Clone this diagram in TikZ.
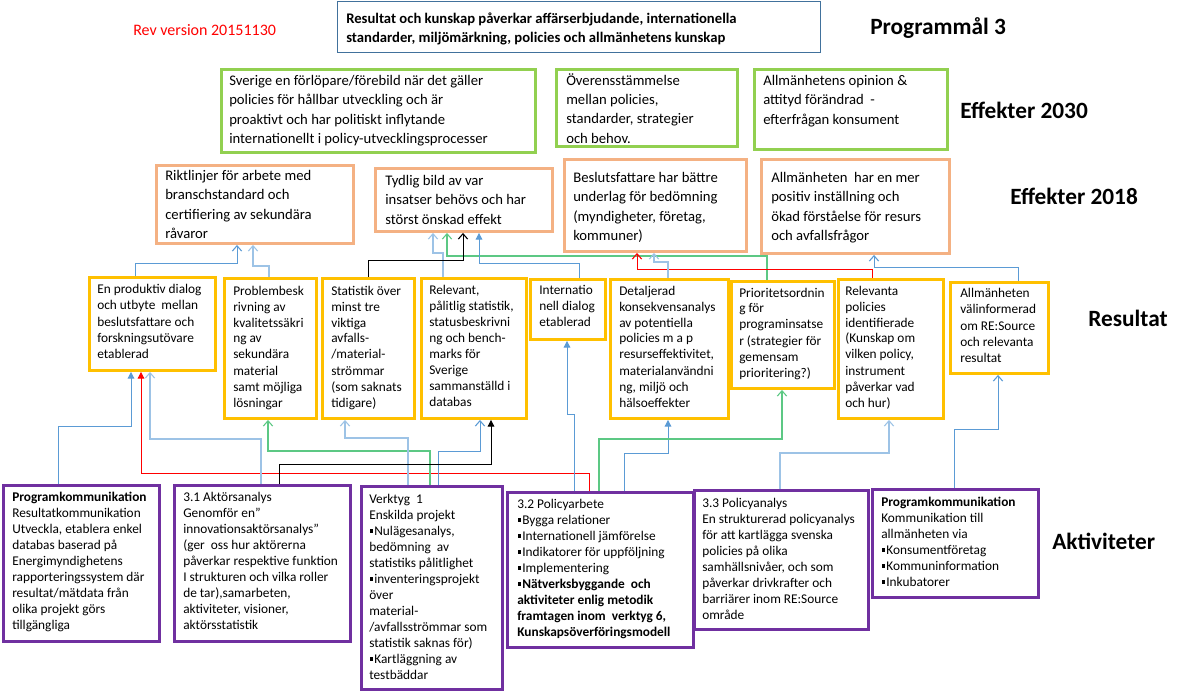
\documentclass[tikz,border=0pt]{standalone}
\usepackage{fontspec}
\setmainfont{Carlito}
\usetikzlibrary{arrows.meta}
\definecolor{cgreenbox}{HTML}{92D050}
\definecolor{corange}{HTML}{F4B183}
\definecolor{cyellow}{HTML}{FFC000}
\definecolor{cpurple}{HTML}{7030A0}
\definecolor{ctopbox}{HTML}{41719C}
\definecolor{cblue}{HTML}{5B9BD5}
\definecolor{clblue}{HTML}{9DC3E6}
\definecolor{cgreen}{HTML}{5CC884}
\definecolor{cred}{HTML}{FF0000}
\newcommand\mkbox[6]{\node[#1, anchor=north west, inner sep=0pt, minimum width={(#5-#3)*0.75pt}, minimum height={(#6-#4)*0.75pt}] (#2) at (#3,#4) {};}
\newcommand\bul{\kern0.3pt\raisebox{1.8pt}{\rule{2.5pt}{2.5pt}}\kern1pt}
\tikzset{
  topbox/.style={draw=ctopbox, line width=0.9pt},
  gbox/.style={draw=cgreenbox, line width=2.2pt},
  obox/.style={draw=corange, line width=2.2pt},
  ybox/.style={draw=cyellow, line width=2.2pt},
  pbox/.style={draw=cpurple, line width=2.2pt},
  t11/.style={anchor=north west, inner sep=0pt, align=left, yshift=-3pt, font=\fontsize{11}{14.5}\selectfont},
  t11b/.style={t11, font=\fontsize{11}{14.3}\selectfont\bfseries},
  t10/.style={anchor=north west, inner sep=0pt, align=left, yshift=-2.6pt, font=\fontsize{10}{12}\selectfont},
  lbl/.style={anchor=west, inner sep=0pt, font=\fontsize{17.5}{20}\selectfont\bfseries},
  ob/.style={-{Straight Barb[length=4pt,width=7pt,line width=0.8pt]}},
  fb/.style={-{Triangle[length=5pt,width=5pt]}},
  cb/.style={draw=cblue, line width=0.75pt},
  cl/.style={draw=clblue, line width=1.5pt},
  cg/.style={draw=cgreen, line width=1.5pt},
  cr/.style={draw=cred, line width=0.75pt},
  ck/.style={draw=black, line width=0.75pt},
}
\begin{document}
\begin{tikzpicture}[x=0.75pt, y=-0.75pt]
\useasboundingbox[fill=white] (0,0) rectangle (1185,690);

% ---------- labels
\node[anchor=west, inner sep=0pt, text=cred, font=\fontsize{12}{14}\selectfont] (rev) at (133,30) {Rev version 20151130};
\node[lbl] (Lprog) at (870,28) {Programmål 3};
\node[lbl] (L2030) at (960,110) {Effekter 2030};
\node[lbl] (L2018) at (1010,196) {Effekter 2018};
\node[lbl] (Lres) at (1088,318) {Resultat};
\node[lbl] (Lakt) at (1052,541) {Aktiviteter};

% ---------- top box
\mkbox{topbox}{T}{337}{1}{820}{52}
\node[t11b] (Tt) at (346,9) {Resultat och kunskap påverkar affärserbjudande, internationella\\standarder, miljömärkning, policies och allmänhetens kunskap};

% ---------- Effekter 2030
\mkbox{gbox}{G1}{220}{68}{534}{151}
\mkbox{gbox}{G2}{555}{68}{736}{145}
\mkbox{gbox}{G3}{753}{68}{946}{148}
\node[t11] (G1t) at (229,71) {Sverige en förlöpare/förebild när det gäller\\policies för hållbar utveckling och är\\proaktivt och har politiskt inflytande\\internationellt i policy-utvecklingsprocesser};
\node[t11] (G2t) at (566,69) {Överensstämmelse\\mellan policies,\\standarder, strategier\\och behov.};
\node[t11] (G3t) at (763,71) {Allmänhetens opinion \&\\attityd förändrad\ \ -\\efterfrågan konsument};

% ---------- Effekter 2018
\mkbox{obox}{O1}{155}{164}{352}{242}
\mkbox{obox}{O2}{374}{167}{551}{230}
\mkbox{obox}{O3}{563}{158}{745}{250}
\mkbox{obox}{O4}{760}{158}{948}{252}
\node[t11] (O1t) at (165,166) {Riktlinjer för arbete med\\branschstandard och\\certifiering av sekundära\\råvaror};
\node[t11] (O2t) at (385,171) {Tydlig bild av var\\insatser behövs och har\\störst önskad effekt};
\node[t11] (O3t) at (573,168) {Beslutsfattare har bättre\\underlag för bedömning\\(myndigheter, företag,\\kommuner)};
\node[t11] (O4t) at (771,168) {Allmänheten\ \ har en mer\\positiv inställning och\\ökad förståelse för resurs\\och avfallsfrågor};

% ---------- Resultat
\mkbox{ybox}{Y1}{88}{276}{214}{369}
\mkbox{ybox}{Y2}{223}{277}{315}{417}
\mkbox{ybox}{Y3}{321}{277}{413}{417}
\mkbox{ybox}{Y4}{420}{277}{525}{417}
\mkbox{ybox}{Y5}{529}{278}{604}{338}
\mkbox{ybox}{Y6}{609}{278}{727}{417}
\mkbox{ybox}{Y7}{730}{280}{833}{387}
\mkbox{ybox}{Y8}{837}{278}{942}{417}
\mkbox{ybox}{Y9}{949}{281}{1047}{372}
\node[t10] (Y1t) at (97,281) {En produktiv dialog\\och utbyte\ \ mellan\\beslutsfattare och\\forskningsutövare\\etablerad};
\node[t10] (Y2t) at (233,282) {Problembesk\\rivning av\\kvalitetssäkri\\ng av\\sekundära\\material\\samt möjliga\\lösningar};
\node[t10] (Y3t) at (331,282) {Statistik över\\minst tre\\viktiga\\avfalls-\\/material-\\strömmar\\(som saknats\\tidigare)};
\node[t10] (Y4t) at (429,281) {Relevant,\\pålitlig statistik,\\statusbeskrivni\\ng och bench-\\marks för\\Sverige\\sammanställd i\\databas};
\node[t10] (Y5t) at (539,282) {Internatio\\nell dialog\\etablerad};
\node[t10] (Y6t) at (619,282) {Detaljerad\\konsekvensanalys\\av potentiella\\policies m a p\\resurseffektivitet,\\materialanvändni\\ng, miljö och\\hälsoeffekter};
\node[t10] (Y7t) at (739,284) {Prioritetsordnin\\g för\\programinsatse\\r (strategier för\\gemensam\\prioritering?)};
\node[t10] (Y8t) at (845,282) {Relevanta\\policies\\identifierade\\(Kunskap om\\vilken policy,\\instrument\\påverkar vad\\och hur)};
\node[t10] (Y9t) at (960,285) {Allmänheten\\välinformerad\\om RE:Source\\och relevanta\\resultat};

% ---------- Aktiviteter
\mkbox{pbox}{P1}{2}{484}{158}{640}
\mkbox{pbox}{P2}{173}{484}{349}{640}
\mkbox{pbox}{P3}{360}{485}{501}{688}
\mkbox{pbox}{P4}{506}{491}{692}{646}
\mkbox{pbox}{P5}{693}{489}{867}{628}
\mkbox{pbox}{P6}{871}{488}{1037}{596}
\node[t10] (P1t) at (12,488) {\textbf{Programkommunikation}\\Resultatkommunikation\\Utveckla, etablera enkel\\databas baserad på\\Energimyndighetens\\rapporteringssystem där\\resultat/mätdata från\\olika projekt görs\\tillgängliga};
\node[t10] (P2t) at (183,488) {3.1 Aktörsanalys\\Genomför en”\\innovationsaktörsanalys”\\(ger\ \ oss hur aktörerna\\påverkar respektive funktion\\I strukturen och vilka roller\\de tar),samarbeten,\\aktiviteter, visioner,\\aktörsstatistik};
\node[t10] (P3t) at (369,490) {Verktyg\ \ 1\\Enskilda projekt\\\bul Nulägesanalys,\\bedömning\ \ av\\statistiks pålitlighet\\\bul inventeringsprojekt\\över\\material-\\/avfallsströmmar som\\statistik saknas för)\\\bul Kartläggning av\\testbäddar};
\node[t10] (P4t) at (517,495) {3.2 Policyarbete\\\bul Bygga relationer\\\bul Internationell jämförelse\\\bul Indikatorer för uppföljning\\\bul Implementering\\\textbf{\bul Nätverksbyggande\ \ och}\\\textbf{aktiviteter enlig metodik}\\\textbf{framtagen inom\ \ verktyg 6,}\\\textbf{Kunskapsöverföringsmodell}};
\node[t10] (P5t) at (702,494) {3.3 Policyanalys\\En strukturerad policyanalys\\för att kartlägga svenska\\policies på olika\\samhällsnivåer, och som\\påverkar drivkrafter och\\barriärer inom RE:Source\\område};
\node[t10] (P6t) at (881,493) {\textbf{Programkommunikation}\\Kommunikation till\\allmänheten via\\\bul Konsumentföretag\\\bul Kommuninformation\\\bul Inkubatorer};

% ---------- connectors Resultat -> Effekter 2018
\draw[cb,ob] (135,0 |- Y1.north) -- (135,263) -- (237,263) -- (237,0 |- O1.south);
\draw[cl,ob] (269,0 |- Y2.north) -- (269,266) -- (253,266) -- (253,0 |- O1.south);
\draw[cl,ob] (443,0 |- Y4.north) -- (443,253) -- (433,253) -- (433,0 |- O2.south);
\draw[cg,ob] (767,0 |- Y7.north) -- (767,256) -- (447,256) -- (447,0 |- O2.south);
\draw[ck,ob] (368,0 |- Y3.north) -- (368,260) -- (463,260) -- (463,0 |- O2.south);
\draw[cb,fb] (579,0 |- Y5.north) -- (579,263) -- (479,263) -- (479,0 |- O2.south);
\draw[cr,ob] (872,0 |- Y8.north) -- (872,269) -- (637,269) -- (637,0 |- O3.south);
\draw[cl,ob] (668,0 |- Y6.north) -- (668,262) -- (654,262) -- (654,0 |- O3.south);
\draw[cb,ob] (1018,0 |- Y9.north) -- (1018,267) -- (874,267) -- (874,0 |- O4.south);

% ---------- connectors Aktiviteter -> Resultat
\draw[cb,fb] (58,0 |- P1.north) -- (58,426) -- (131,426) -- (131,0 |- Y1.south);
\draw[cr,fb] (589,0 |- P4.north) -- (589,473) -- (141,473) -- (141,0 |- Y1.south);
\draw[cl,ob] (261,0 |- P2.north) -- (261,439) -- (150,439) -- (150,0 |- Y1.south);
\draw[cg,ob] (430,0 |- P3.north) -- (430,451) -- (268,451) -- (268,0 |- Y2.south);
\draw[cl,ob] (408,0 |- P3.north) -- (408,438) -- (345,438) -- (345,0 |- Y3.south);
\draw[cb,ob] (438,0 |- P3.north) -- (438,451) -- (480,451) -- (480,0 |- Y4.south);
\draw[ck,fb] (279,0 |- P2.north) -- (279,464) -- (491,464) -- (491,0 |- Y4.south);
\draw[cb,fb] (574,0 |- P4.north) -- (574,414) -- (567,414) -- (567,0 |- Y5.south);
\draw[cb,fb] (624,0 |- P4.north) -- (624,453) -- (668,453) -- (668,0 |- Y6.south);
\draw[cg,ob] (599,0 |- P4.north) -- (599,439) -- (782,439) -- (782,0 |- Y7.south);
\draw[cl,ob] (780,0 |- P5.north) -- (780,453) -- (889,453) -- (889,0 |- Y8.south);
\draw[cb,ob] (954,0 |- P6.north) -- (954,429) -- (998,429) -- (998,0 |- Y9.south);
\end{tikzpicture}
\end{document}
